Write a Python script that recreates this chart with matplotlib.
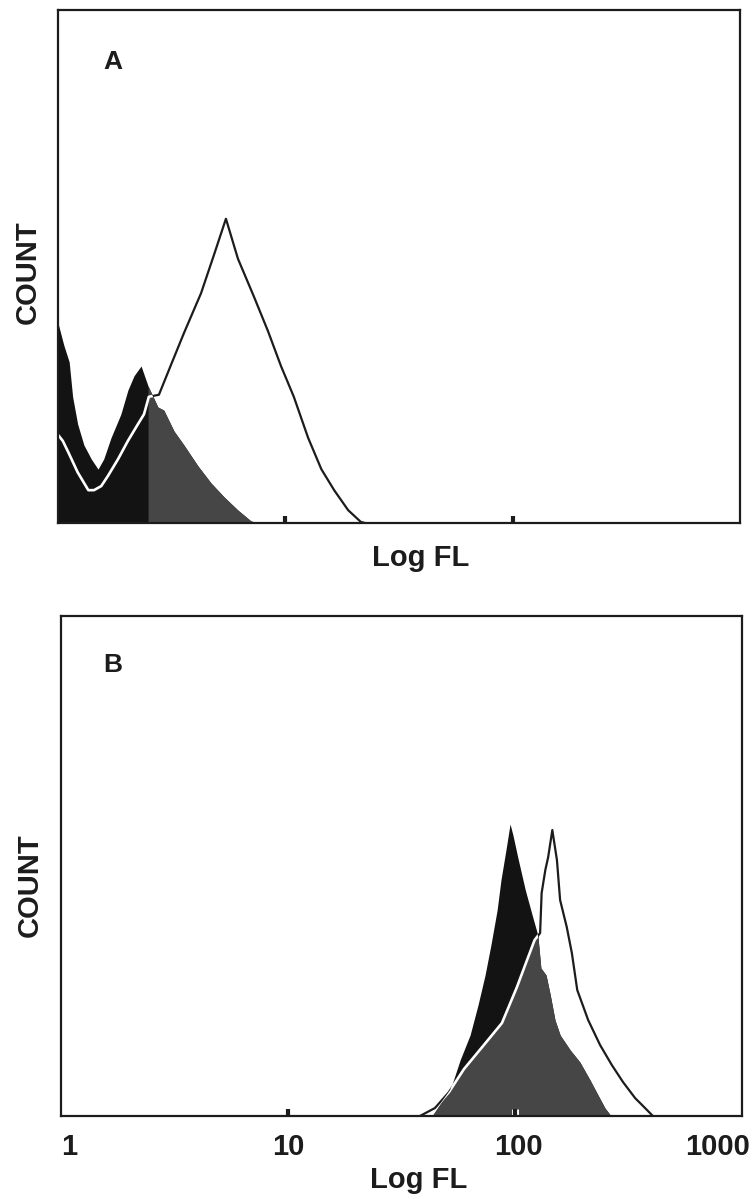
import numpy as np
import matplotlib
matplotlib.use('Agg')
import matplotlib.pyplot as plt
import matplotlib.patheffects as pe
from matplotlib import transforms

plt.rcParams['font.family'] = ['Liberation Sans', 'DejaVu Sans']
plt.rcParams['font.weight'] = 'bold'

# ---- data: x = fluorescence (log axis), y = count (% of axis height) ----
# panel A, filled (control) histogram
a_fill_fl = [1.00, 1.06, 1.12, 1.16, 1.22, 1.30, 1.40, 1.50, 1.59, 1.71, 1.89, 2.03, 2.16,
             2.32, 2.49, 2.62, 2.75, 2.92, 3.24, 3.58, 4.13, 4.71, 5.37, 6.19, 7.06, 7.59]
a_fill_count = [39.0, 34.7, 31.4, 24.6, 19.3, 15.2, 12.5, 10.5, 12.5, 16.6, 21.2, 25.9, 28.7,
                30.6, 26.7, 24.6, 22.6, 22.0, 17.9, 15.2, 11.1, 7.8, 5.1, 2.5, 0.4, 0.0]
# panel A, open (test) histogram
a_open_fl = [1.00, 1.05, 1.11, 1.22, 1.36, 1.44, 1.55, 1.66, 1.84, 2.03, 2.25, 2.39, 2.51,
             2.78, 3.14, 3.58, 4.26, 4.85, 5.48, 6.19, 7.28, 8.39, 9.57, 10.9, 12.6, 14.4,
             16.4, 18.9, 21.5, 22.4]
a_open_count = [17.2, 16.0, 13.8, 9.9, 6.4, 6.4, 7.2, 9.2, 12.5, 16.0, 19.3, 21.2, 24.6,
                25.0, 30.8, 37.0, 44.8, 52.2, 59.3, 51.5, 44.1, 37.4, 30.6, 24.6, 16.6, 10.5,
                6.4, 2.5, 0.2, 0.0]

# panel B, filled (control) histogram
b_fill_fl = [43.1, 46.8, 51.8, 57.3, 63.4, 68.7, 73.8, 78.3, 83.4, 86.7, 91.2, 95.1, 97.9,
             103, 111, 120, 126, 130, 137, 143, 150, 158, 175, 193, 214, 232, 249, 265]
b_fill_count = [0.0, 2.4, 5.2, 11.2, 16.2, 22.2, 28.2, 34.2, 41.2, 47.2, 53.2, 58.4, 56.2,
                51.6, 45.2, 39.6, 36.2, 29.6, 28.2, 24.2, 19.2, 16.2, 13.2, 10.8, 7.2, 4.2,
                1.6, 0.0]
# panel B, open (test) histogram
b_open_fl = [38.1, 44.4, 51.2, 59.6, 72.3, 87.6, 102, 113, 122, 129, 131, 136, 140, 146,
             153, 158, 169, 178, 188, 210, 237, 267, 299, 338, 374, 405]
b_open_count = [0.0, 1.6, 4.8, 9.4, 14.0, 18.6, 25.8, 31.2, 35.2, 36.6, 44.6, 49.2, 51.8,
                57.2, 51.2, 43.2, 37.8, 32.6, 25.2, 19.2, 14.2, 10.2, 6.8, 3.6, 1.6, 0.0]

tick_values = [1, 10, 100, 1000]
tick_labels = ['1', '10', '100', '1000']
panel_letters = ['A', 'B']

DARK = '#131313'
GRAY = '#464646'
INK = '#1c1c1c'


def draw_panel(ax, fill_fl, fill_cnt, open_fl, open_cnt, gray_from=None):
    ax.set_xscale('log')
    ax.set_xlim(1, 1000)
    ax.set_ylim(0, 100)

    dark = ax.fill_between(fill_fl, fill_cnt, 0, color=DARK, lw=0, zorder=1)
    if gray_from is None:
        # overlap of both histograms shows as halftone grey
        gray = ax.fill_between(fill_fl, fill_cnt, 0, color=GRAY, lw=0, zorder=1.5)
        outline = ax.fill_between(open_fl, open_cnt, 0, facecolor='none', lw=0)
        gray.set_clip_path(outline.get_paths()[0], ax.transData)
    else:
        mask = np.asarray(fill_fl) >= gray_from
        ax.fill_between(fill_fl, fill_cnt, 0, where=mask, color=GRAY, lw=0, zorder=1.5)

    ax.plot(open_fl, open_cnt, color=INK, lw=1.6, zorder=3)
    white, = ax.plot(open_fl, open_cnt, color='white', lw=1.9, zorder=4)
    white.set_clip_path(dark.get_paths()[0], ax.transData)

    ax.set_xticks([10, 100])
    ax.xaxis.set_minor_locator(matplotlib.ticker.NullLocator())
    ax.tick_params(axis='x', direction='in', length=5, width=3, color=INK,
                   labelbottom=False)
    ax.set_yticks([])
    ax.set_axisbelow(False)
    for s in ax.spines.values():
        s.set_linewidth(1.6)
        s.set_color(INK)
        s.set_zorder(5)


fig = plt.figure(figsize=(7.56, 11.99), dpi=100)
axA = fig.add_axes([0.0767, 0.5638, 0.9021, 0.4279])
axB = fig.add_axes([0.0807, 0.0692, 0.9008, 0.4170])

draw_panel(axA, a_fill_fl, a_fill_count, a_open_fl, a_open_count, gray_from=2.4)
draw_panel(axB, b_fill_fl, b_fill_count, b_open_fl, b_open_count)

# tick at 100 in B sits on the dark fill: give it a white rim
t100 = axB.xaxis.get_major_ticks()[1].tick1line
t100.set_path_effects([pe.Stroke(linewidth=5, foreground='white'), pe.Normal()])

# tick labels under panel B
blend = transforms.blended_transform_factory(axB.transData, axB.transAxes)
aligns = ['left', 'center', 'center', 'right']
shifts = [0, 0, 3, 8]
for v, lab, ha, dx in zip(tick_values, tick_labels, aligns, shifts):
    tr = transforms.offset_copy(blend, fig=fig, x=dx, y=0, units='dots')
    axB.text(v, -0.062, lab, transform=tr, ha=ha, va='center', fontsize=21,
             fontweight='bold', color=INK)

# axis titles and panel letters
fig.text(0.557, 0.5346, 'Log FL', ha='center', va='center', fontsize=21,
         fontweight='bold', color=INK)
fig.text(0.554, 0.0158, 'Log FL', ha='center', va='center', fontsize=21,
         fontweight='bold', color=INK)
fig.text(0.037, 0.773, 'COUNT', rotation=90, ha='center', va='center', fontsize=21,
         fontweight='bold', color=INK)
fig.text(0.040, 0.262, 'COUNT', rotation=90, ha='center', va='center', fontsize=21,
         fontweight='bold', color=INK)
fig.text(0.1495, 0.9483, panel_letters[0], ha='center', va='center', fontsize=19,
         fontweight='bold', color=INK)
fig.text(0.1495, 0.4454, panel_letters[1], ha='center', va='center', fontsize=19,
         fontweight='bold', color=INK)

fig.savefig('out.png', dpi=100)
